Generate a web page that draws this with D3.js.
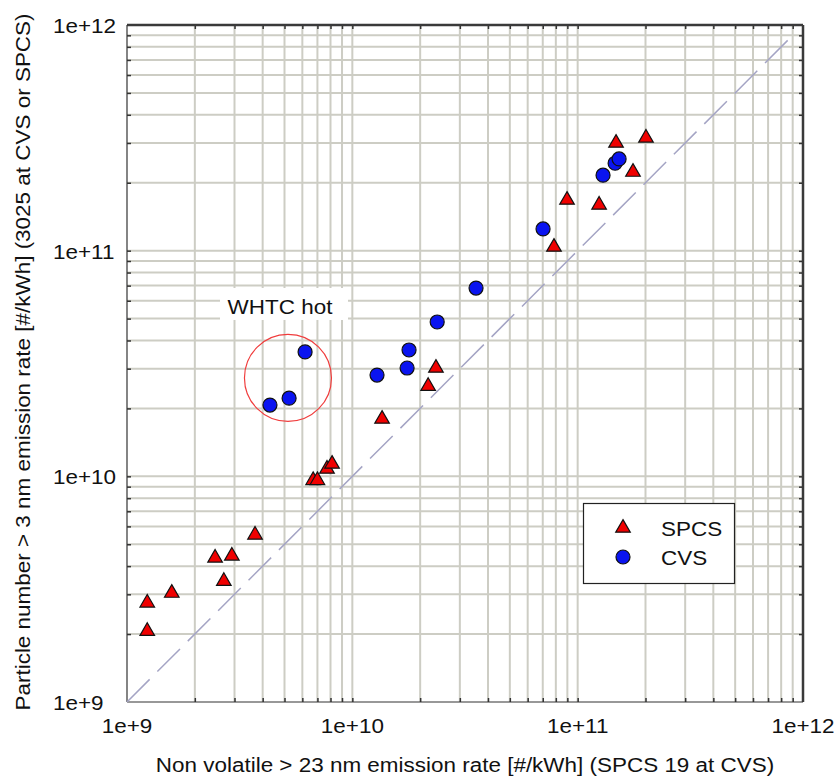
<!DOCTYPE html>
<html>
<head>
<meta charset="utf-8">
<script src="https://cdn.jsdelivr.net/npm/d3@7"></script>
<style>
  html, body { margin: 0; padding: 0; background: #fff; }
  svg { display: block; font-family: "Liberation Sans", Arial, sans-serif; }
</style>
</head>
<body>
<svg id="chart" width="839" height="779"></svg>
<script>
// Axis domain and tick labels
const axisDomain = [1e9, 1e12];
const tickValues = [1e9, 1e10, 1e11, 1e12];
const tickLabels = ["1e+9", "1e+10", "1e+11", "1e+12"];

// SPCS measurements: non-volatile >23 nm (x) vs >3 nm (y), #/kWh
const spcsX = [1.23e9, 1.23e9, 1.58e9, 2.46e9, 2.92e9, 2.69e9, 3.70e9,
               6.7e9, 7.0e9, 7.72e9, 8.13e9, 1.355e10, 2.17e10, 2.35e10,
               7.85e10, 8.97e10, 1.245e11, 1.48e11, 1.76e11, 2.01e11];
const spcsY = [2.75e9, 2.06e9, 3.04e9, 4.35e9, 4.44e9, 3.43e9, 5.5e9,
               9.6e9, 9.6e9, 1.078e10, 1.134e10, 1.795e10, 2.51e10, 3.02e10,
               1.038e11, 1.677e11, 1.594e11, 3.0e11, 2.23e11, 3.16e11];

// CVS measurements
const cvsX = [4.31e9, 5.24e9, 6.17e9, 1.287e10, 1.75e10, 1.785e10, 2.38e10,
              3.54e10, 7.02e10, 1.296e11, 1.466e11, 1.527e11];
const cvsY = [2.07e10, 2.22e10, 3.56e10, 2.81e10, 3.02e10, 3.63e10, 4.83e10,
              6.83e10, 1.248e11, 2.16e11, 2.44e11, 2.55e11];

// 1:1 reference line end points
const parityLine = [1e9, 9.2e11];

// "WHTC hot" highlight centre
const whtcCenter = [5.18e9, 2.73e10];

const legendLabels = ["SPCS", "CVS"];

const svg = d3.select("#chart");
const plot = { left: 127, right: 803, top: 25, bottom: 702 };
const FONT = 21, STRETCH = 1.07, INK = "#111";

const x = d3.scaleLog().domain(axisDomain).range([plot.left, plot.right]);
const y = d3.scaleLog().domain(axisDomain).range([plot.bottom, plot.top]);

// text with a slight horizontal stretch
function label(parent, tx, ty, str, anchor, rot) {
  return parent.append("text")
    .attr("transform", `translate(${tx},${ty})` + (rot ? ` rotate(${rot})` : "") + ` scale(${STRETCH},1)`)
    .attr("text-anchor", anchor || "start")
    .attr("font-size", FONT).attr("fill", INK)
    .text(str);
}

// every 1..9 × decade inside the domain, for the grid
const gridVals = [];
for (let e = 9; e < 12; e++) for (let m = 1; m < 10; m++) gridVals.push(m * Math.pow(10, e));
const inner = gridVals.filter(v => v > 1e9 && v < 1e12);

const grid = svg.append("g").attr("stroke", "#cdcdc4").attr("stroke-width", 2);
grid.selectAll("line.v").data(inner).join("line")
  .attr("x1", d => x(d)).attr("x2", d => x(d))
  .attr("y1", plot.top).attr("y2", plot.bottom);
grid.selectAll("line.h").data(inner).join("line")
  .attr("x1", plot.left).attr("x2", plot.right)
  .attr("y1", d => y(d)).attr("y2", d => y(d));

// inner tick marks on all four sides
const tickLen = 4;
function ticks(axis, tr) {
  svg.append("g").attr("transform", tr)
    .call(axis.tickValues(inner).tickSize(-tickLen).tickFormat(""))
    .call(g => g.select(".domain").remove())
    .call(g => g.selectAll("line").attr("stroke", "#333").attr("stroke-width", 1.5));
}
ticks(d3.axisTop(x), `translate(0,${plot.top})`);
ticks(d3.axisBottom(x), `translate(0,${plot.bottom})`);
ticks(d3.axisLeft(y), `translate(${plot.left},0)`);
ticks(d3.axisRight(y), `translate(${plot.right},0)`);

// frame
svg.append("line").attr("x1", plot.left).attr("x2", plot.right).attr("y1", plot.top).attr("y2", plot.top)
  .attr("stroke", "#3a3a3a").attr("stroke-width", 2.5);
svg.append("line").attr("x1", plot.right).attr("x2", plot.right).attr("y1", plot.top).attr("y2", plot.bottom)
  .attr("stroke", "#3a3a3a").attr("stroke-width", 2.5);
svg.append("line").attr("x1", plot.left).attr("x2", plot.left).attr("y1", plot.top).attr("y2", plot.bottom)
  .attr("stroke", "#333").attr("stroke-width", 1.2);
svg.append("line").attr("x1", plot.left).attr("x2", plot.right).attr("y1", plot.bottom).attr("y2", plot.bottom)
  .attr("stroke", "#333").attr("stroke-width", 1.2);

// 1:1 dashed line
svg.append("line")
  .attr("x1", x(parityLine[0])).attr("y1", y(parityLine[0]))
  .attr("x2", x(parityLine[1])).attr("y2", y(parityLine[1]))
  .attr("stroke", "#a4a4c4").attr("stroke-width", 1.5)
  .attr("stroke-dasharray", "32,11");

// tick labels
const tl = svg.append("g");
tickValues.forEach((v, i) => {
  label(tl, x(v), 733, tickLabels[i], "middle");
  label(tl, 53, y(v) + 8, tickLabels[i], "start");
});

// axis titles
label(svg, 465, 772, "Non volatile > 23 nm emission rate [#/kWh] (SPCS 19 at CVS)", "middle");
label(svg, 30, 362, "Particle number > 3 nm emission rate [#/kWh] (3025 at CVS or SPCS)", "middle", -90);

// "WHTC hot" annotation
const cx = x(whtcCenter[0]), cy = y(whtcCenter[1]);
svg.append("rect").attr("x", 220).attr("y", 288).attr("width", 128).attr("height", 32).attr("fill", "#fff");
label(svg, 280, 314, "WHTC hot", "middle");
svg.append("circle").attr("cx", cx).attr("cy", cy).attr("r", 43.5)
  .attr("fill", "none").attr("stroke", "#f03c3c").attr("stroke-width", 1.2);

// markers
const tri = d3.symbol().type(d3.symbolTriangle).size(92);
const spcs = spcsX.map((v, i) => [v, spcsY[i]]);
const cvs = cvsX.map((v, i) => [v, cvsY[i]]);

svg.append("g").selectAll("circle").data(cvs).join("circle")
  .attr("cx", d => x(d[0])).attr("cy", d => y(d[1])).attr("r", 7)
  .attr("fill", "#0a14f0").attr("stroke", "#111").attr("stroke-width", 1.2);
svg.append("g").selectAll("path").data(spcs).join("path")
  .attr("d", tri).attr("transform", d => `translate(${x(d[0])},${y(d[1])})`)
  .attr("fill", "#f00000").attr("stroke", "#111").attr("stroke-width", 1.2);

// legend
const lg = svg.append("g");
lg.append("rect").attr("x", 583.5).attr("y", 503.5).attr("width", 151).attr("height", 80)
  .attr("fill", "#fff").attr("stroke", "#222").attr("stroke-width", 1.2);
lg.append("path").attr("d", tri).attr("transform", "translate(623,528)")
  .attr("fill", "#f00000").attr("stroke", "#111").attr("stroke-width", 1.2);
lg.append("circle").attr("cx", 623).attr("cy", 557).attr("r", 7)
  .attr("fill", "#0a14f0").attr("stroke", "#111").attr("stroke-width", 1.2);
legendLabels.forEach((t, i) => label(lg, 661, 536 + i * 29, t, "start"));
</script>
</body>
</html>
